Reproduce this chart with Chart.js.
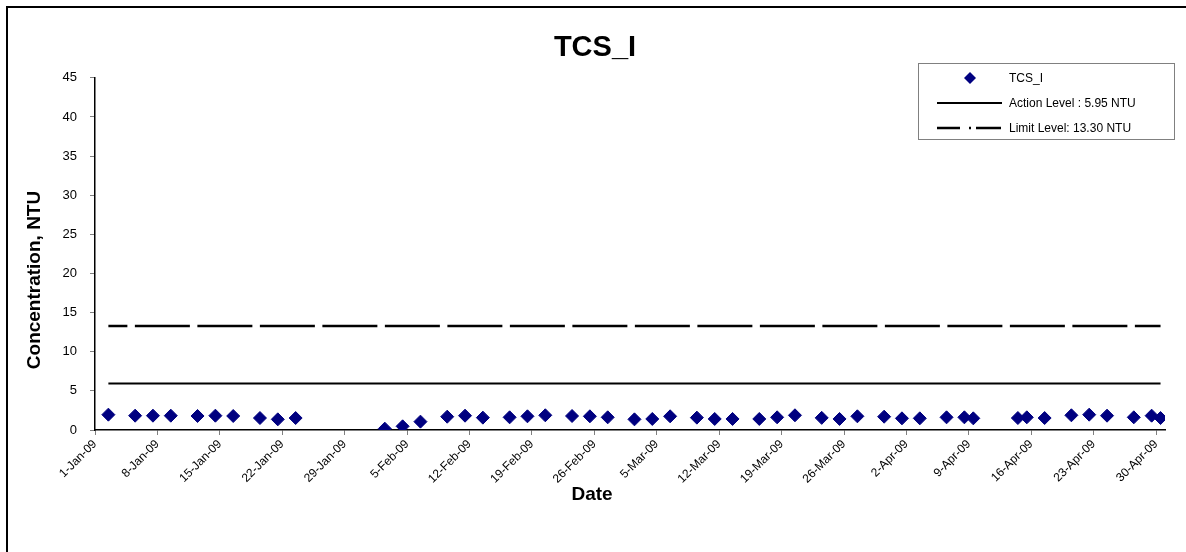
<!DOCTYPE html>
<html>
<head>
<meta charset="utf-8">
<title>TCS_I</title>
<script src="https://cdn.jsdelivr.net/npm/chart.js@4.4.0/dist/chart.umd.min.js"></script>
<style>
  html, body { margin: 0; padding: 0; background: #fff; }
  #wrap { width: 1186px; height: 552px; position: relative; }
</style>
</head>
<body>
<div id="wrap"><canvas id="chart" width="1186" height="552"></canvas></div>
<script>
// weekly tick labels on the date axis
const tickLabels = ['1-Jan-09', '8-Jan-09', '15-Jan-09', '22-Jan-09', '29-Jan-09', '5-Feb-09',
  '12-Feb-09', '19-Feb-09', '26-Feb-09', '5-Mar-09', '12-Mar-09', '19-Mar-09', '26-Mar-09',
  '2-Apr-09', '9-Apr-09', '16-Apr-09', '23-Apr-09', '30-Apr-09'];

// sampling dates and measured turbidity (NTU)
const sampleDates = ['2009-01-02', '2009-01-05', '2009-01-07', '2009-01-09', '2009-01-12', '2009-01-14',
  '2009-01-16', '2009-01-19', '2009-01-21', '2009-01-23', '2009-02-02', '2009-02-04', '2009-02-06',
  '2009-02-09', '2009-02-11', '2009-02-13', '2009-02-16', '2009-02-18', '2009-02-20', '2009-02-23',
  '2009-02-25', '2009-02-27', '2009-03-02', '2009-03-04', '2009-03-06', '2009-03-09', '2009-03-11',
  '2009-03-13', '2009-03-16', '2009-03-18', '2009-03-20', '2009-03-23', '2009-03-25', '2009-03-27',
  '2009-03-30', '2009-04-01', '2009-04-03', '2009-04-06', '2009-04-08', '2009-04-09', '2009-04-14',
  '2009-04-15', '2009-04-17', '2009-04-20', '2009-04-22', '2009-04-24', '2009-04-27', '2009-04-29',
  '2009-04-30'];
const tcsValues = [1.96, 1.83, 1.83, 1.83, 1.79, 1.83,
  1.79, 1.53, 1.36, 1.53, 0.17, 0.47, 1.07,
  1.70, 1.83, 1.58, 1.62, 1.75, 1.88, 1.79,
  1.75, 1.62, 1.36, 1.41, 1.75, 1.58, 1.41,
  1.41, 1.41, 1.62, 1.88, 1.55, 1.41, 1.75,
  1.70, 1.49, 1.49, 1.62, 1.62, 1.49, 1.53,
  1.62, 1.53, 1.88, 1.96, 1.83, 1.62, 1.83,
  1.53];

const actionLevel = 5.95;
const limitLevel = 13.30;

const startMs = Date.UTC(2009, 0, 1);
// Excel date axis puts each point in the middle of its day
function dayPos(iso) {
  const p = iso.split('-').map(Number);
  return (Date.UTC(p[0], p[1] - 1, p[2]) - startMs) / 86400000 + 0.5;
}

const tcsPoints = sampleDates.map((d, i) => ({ x: dayPos(d), y: tcsValues[i] }));
const actionPoints = sampleDates.map(d => ({ x: dayPos(d), y: actionLevel }));
const limitPoints = sampleDates.map(d => ({ x: dayPos(d), y: limitLevel }));

const legendItems = [
  { text: 'TCS_I', kind: 'marker' },
  { text: 'Action Level : 5.95 NTU', kind: 'solid' },
  { text: 'Limit Level: 13.30 NTU', kind: 'dashdot' }
];

const fontFamily = 'Arial, "Liberation Sans", sans-serif';

const framePlugin = {
  id: 'frame',
  beforeDraw(chart) {
    const ctx = chart.ctx;
    ctx.save();
    ctx.fillStyle = '#fff';
    ctx.fillRect(0, 0, chart.width, chart.height);
    ctx.strokeStyle = '#000';
    ctx.lineWidth = 2;
    ctx.beginPath();
    ctx.moveTo(7, chart.height);
    ctx.lineTo(7, 7);
    ctx.lineTo(chart.width, 7);
    ctx.stroke();
    ctx.restore();
  }
};

// axis titles sit off-centre in the original, so they are placed by hand
const axisTitlesPlugin = {
  id: 'axisTitles',
  afterDraw(chart) {
    const ctx = chart.ctx;
    ctx.save();
    ctx.fillStyle = '#000';
    ctx.font = 'bold 19px ' + fontFamily;
    ctx.textAlign = 'center';
    ctx.textBaseline = 'middle';
    ctx.fillText('Date', 592, 495);
    ctx.translate(35, 280);
    ctx.rotate(-Math.PI / 2);
    ctx.fillText('Concentration, NTU', 0, 0);
    ctx.restore();
  }
};

const boxLegendPlugin = {
  id: 'boxLegend',
  afterDraw(chart) {
    const ctx = chart.ctx;
    ctx.save();
    ctx.fillStyle = '#fff';
    ctx.fillRect(918, 63, 256, 76);
    ctx.strokeStyle = '#808080';
    ctx.lineWidth = 1;
    ctx.strokeRect(918.5, 63.5, 256, 76);
    ctx.font = '12px ' + fontFamily;
    ctx.textBaseline = 'middle';
    ctx.textAlign = 'left';
    legendItems.forEach((item, i) => {
      const y = 78 + i * 25;
      ctx.strokeStyle = '#000';
      ctx.setLineDash([]);
      if (item.kind === 'marker') {
        ctx.fillStyle = '#000080';
        ctx.beginPath();
        ctx.moveTo(970, y - 6);
        ctx.lineTo(976, y);
        ctx.lineTo(970, y + 6);
        ctx.lineTo(964, y);
        ctx.closePath();
        ctx.fill();
      } else {
        ctx.lineWidth = item.kind === 'solid' ? 2 : 2.5;
        if (item.kind === 'dashdot') ctx.setLineDash([23, 9, 2, 5, 25]);
        ctx.beginPath();
        ctx.moveTo(937, y);
        ctx.lineTo(1002, y);
        ctx.stroke();
      }
      ctx.setLineDash([]);
      ctx.fillStyle = '#000';
      ctx.fillText(item.text, 1009, y + 1);
    });
    ctx.restore();
  }
};

new Chart(document.getElementById('chart'), {
  type: 'scatter',
  data: {
    datasets: [
      {
        label: 'TCS_I',
        data: tcsPoints,
        pointStyle: 'rectRot',
        pointRadius: 6.5,
        pointBackgroundColor: '#000080',
        pointBorderColor: '#000080',
        pointBorderWidth: 1,
        showLine: false,
        order: 0
      },
      {
        label: 'Action Level : 5.95 NTU',
        data: actionPoints,
        showLine: true,
        borderColor: '#000',
        borderWidth: 2,
        pointRadius: 0,
        order: 2
      },
      {
        label: 'Limit Level: 13.30 NTU',
        data: limitPoints,
        showLine: true,
        borderColor: '#000',
        borderWidth: 2.5,
        borderDash: [55, 7.5],
        borderDashOffset: 36,
        pointRadius: 0,
        order: 1
      }
    ]
  },
  options: {
    responsive: false,
    animation: false,
    layout: { padding: { left: 25, right: 21, top: 0, bottom: 0 } },
    plugins: {
      legend: { display: false },
      tooltip: { enabled: false },
      title: {
        display: true,
        text: 'TCS_I',
        color: '#000',
        font: { family: fontFamily, size: 29, weight: 'bold' },
        padding: { top: 31, bottom: 12 }
      }
    },
    scales: {
      x: {
        type: 'linear',
        min: 0,
        max: 120,
        afterBuildTicks(scale) {
          scale.ticks = tickLabels.map((_, i) => ({ value: i * 7 }));
        },
        afterFit(scale) { scale.height = 122; },
        ticks: {
          autoSkip: false,
          maxRotation: 45,
          minRotation: 45,
          color: '#000',
          font: { family: fontFamily, size: 12 },
          padding: 2,
          callback: v => tickLabels[Math.round(v / 7)]
        },
        grid: { drawOnChartArea: false, drawTicks: true, tickLength: 5, color: '#808080' },
        border: { color: '#000', width: 1.5 }
      },
      y: {
        min: 0,
        max: 45,
        afterBuildTicks(scale) {
          const t = [];
          for (let v = 0; v <= 45; v += 5) t.push({ value: v });
          scale.ticks = t;
        },
        afterFit(scale) { scale.width = 70; },
        ticks: { color: '#000', font: { family: fontFamily, size: 13 }, padding: 13 },
        grid: { drawOnChartArea: false, drawTicks: true, tickLength: 5, color: '#808080' },
        border: { color: '#000', width: 1.5 }
      }
    }
  },
  plugins: [framePlugin, axisTitlesPlugin, boxLegendPlugin]
});
</script>
</body>
</html>
